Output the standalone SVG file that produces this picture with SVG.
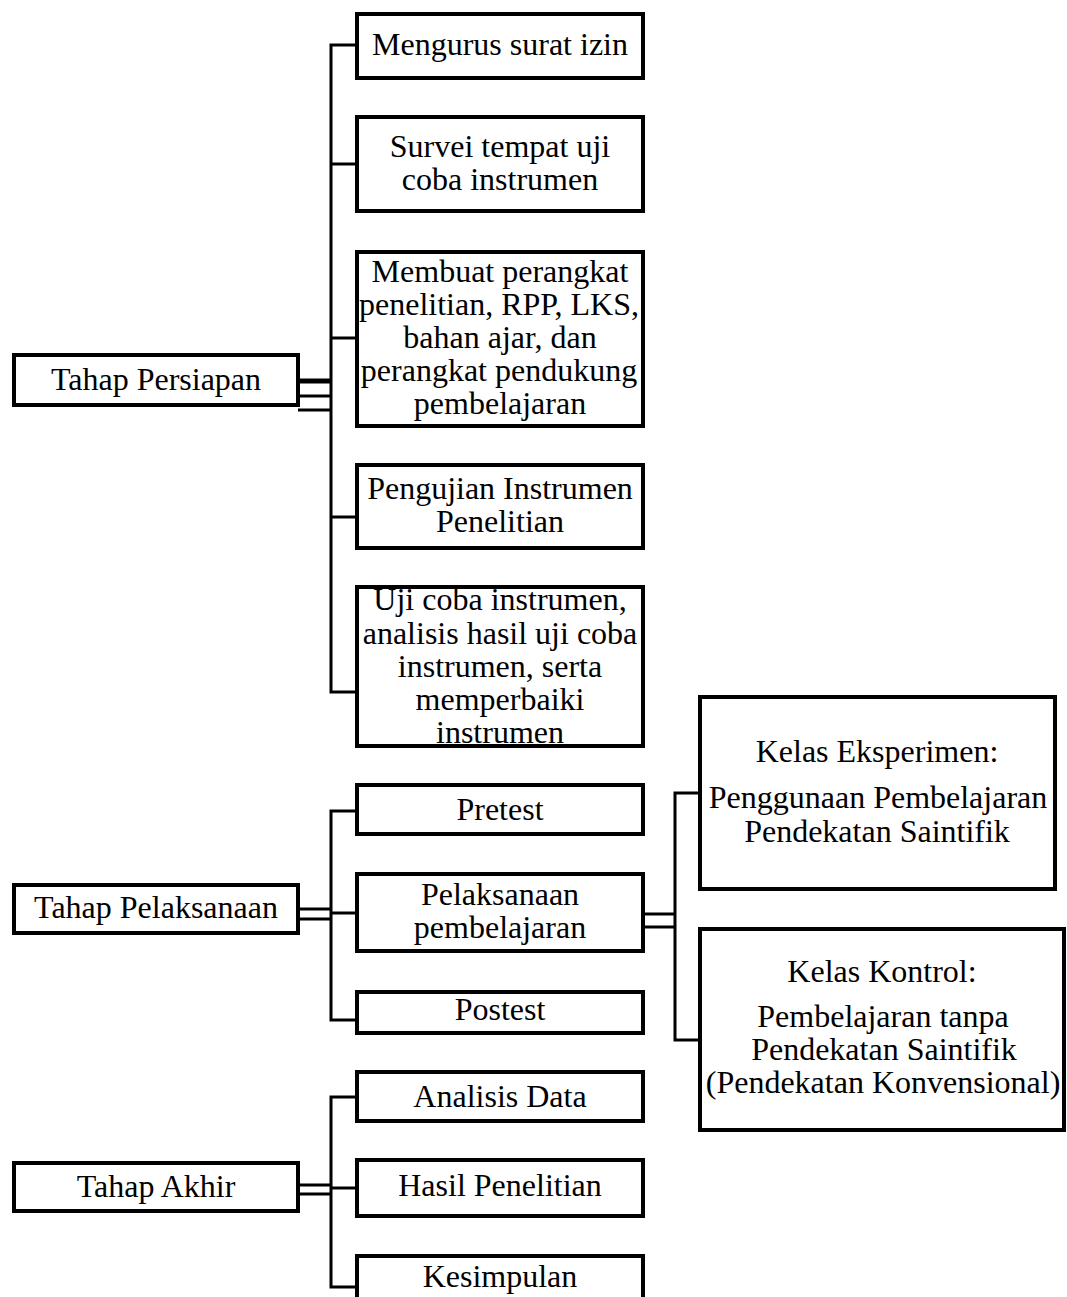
<svg xmlns="http://www.w3.org/2000/svg" width="1067" height="1297" viewBox="0 0 1067 1297">
<style>
.box{fill:#fff;stroke:#000;stroke-width:4}
.ln{fill:none;stroke:#000;stroke-width:3}
.thk{fill:none;stroke:#000;stroke-width:5}
text{font-family:"Liberation Serif","Times New Roman",serif;font-size:32px;fill:#000;text-anchor:middle}
</style>
<rect width="1067" height="1297" fill="#fff"/>
<g id="connectors">
<polyline class="ln" points="356,45 331,45 331,692 356,692"/>
<line class="ln" x1="331" y1="164" x2="356" y2="164"/>
<line class="ln" x1="331" y1="338" x2="356" y2="338"/>
<line class="ln" x1="331" y1="517" x2="356" y2="517"/>
<line class="thk" x1="298" y1="381" x2="331" y2="381"/>
<line class="ln" x1="298" y1="396" x2="331" y2="396"/>
<line class="ln" x1="298" y1="410" x2="331" y2="410"/>
<polyline class="ln" points="356,811 331,811 331,1020 356,1020"/>
<line class="ln" x1="331" y1="913" x2="356" y2="913"/>
<line class="ln" x1="298" y1="909" x2="331" y2="909"/>
<line class="ln" x1="298" y1="919" x2="331" y2="919"/>
<polyline class="ln" points="700,793 675,793 675,1040 700,1040"/>
<line class="ln" x1="643" y1="914" x2="675" y2="914"/>
<line class="ln" x1="643" y1="927" x2="675" y2="927"/>
<polyline class="ln" points="356,1097 331,1097 331,1287 356,1287"/>
<line class="ln" x1="331" y1="1188" x2="356" y2="1188"/>
<line class="ln" x1="298" y1="1185" x2="331" y2="1185"/>
<line class="ln" x1="298" y1="1194" x2="331" y2="1194"/>
</g>
<g id="tahap-persiapan"><rect class="box" x="14" y="355" width="284" height="50"/><text x="156" y="390">Tahap Persiapan</text></g>
<g id="tahap-pelaksanaan"><rect class="box" x="14" y="885" width="284" height="48"/><text x="156" y="918">Tahap Pelaksanaan</text></g>
<g id="tahap-akhir"><rect class="box" x="14" y="1163" width="284" height="48"/><text x="156" y="1197">Tahap Akhir</text></g>
<g id="mengurus"><rect class="box" x="357" y="14" width="286" height="64"/><text x="500" y="55">Mengurus surat izin</text></g>
<g id="survei"><rect class="box" x="357" y="117" width="286" height="94"/><text x="500" y="157">Survei tempat uji</text><text x="500" y="190">coba instrumen</text></g>
<g id="membuat"><rect class="box" x="357" y="252" width="286" height="174"/><text x="500" y="282">Membuat perangkat</text><text x="499" y="315">penelitian, RPP, LKS,</text><text x="500" y="348">bahan ajar, dan</text><text x="499" y="381">perangkat pendukung</text><text x="500" y="414">pembelajaran</text></g>
<g id="pengujian"><rect class="box" x="357" y="465" width="286" height="83"/><text x="500" y="499">Pengujian Instrumen</text><text x="500" y="532">Penelitian</text></g>
<g id="ujicoba"><rect class="box" x="357" y="587" width="286" height="159"/><text x="500" y="610">Uji coba instrumen,</text><text x="500" y="644">analisis hasil uji coba</text><text x="500" y="677">instrumen, serta</text><text x="500" y="710">memperbaiki</text><text x="500" y="743">instrumen</text></g>
<g id="pretest"><rect class="box" x="357" y="785" width="286" height="49"/><text x="500" y="820">Pretest</text></g>
<g id="pelaksanaan"><rect class="box" x="357" y="874" width="286" height="77"/><text x="500" y="905">Pelaksanaan</text><text x="500" y="938">pembelajaran</text></g>
<g id="postest"><rect class="box" x="357" y="992" width="286" height="41"/><text x="500" y="1020">Postest</text></g>
<g id="analisis"><rect class="box" x="357" y="1072" width="286" height="49"/><text x="500" y="1107">Analisis Data</text></g>
<g id="hasil"><rect class="box" x="357" y="1160" width="286" height="56"/><text x="500" y="1196">Hasil Penelitian</text></g>
<g id="kesimpulan"><rect class="box" x="357" y="1256" width="286" height="70"/><text x="500" y="1287">Kesimpulan</text></g>
<g id="eksperimen"><rect class="box" x="700" y="697" width="355" height="192"/><text x="877" y="762">Kelas Eksperimen:</text><text x="878" y="808">Penggunaan Pembelajaran</text><text x="877" y="842">Pendekatan Saintifik</text></g>
<g id="kontrol"><rect class="box" x="700" y="929" width="364" height="201"/><text x="882" y="982">Kelas Kontrol:</text><text x="883" y="1027">Pembelajaran tanpa</text><text x="884" y="1060">Pendekatan Saintifik</text><text x="883" y="1093">(Pendekatan Konvensional)</text></g>
</svg>
